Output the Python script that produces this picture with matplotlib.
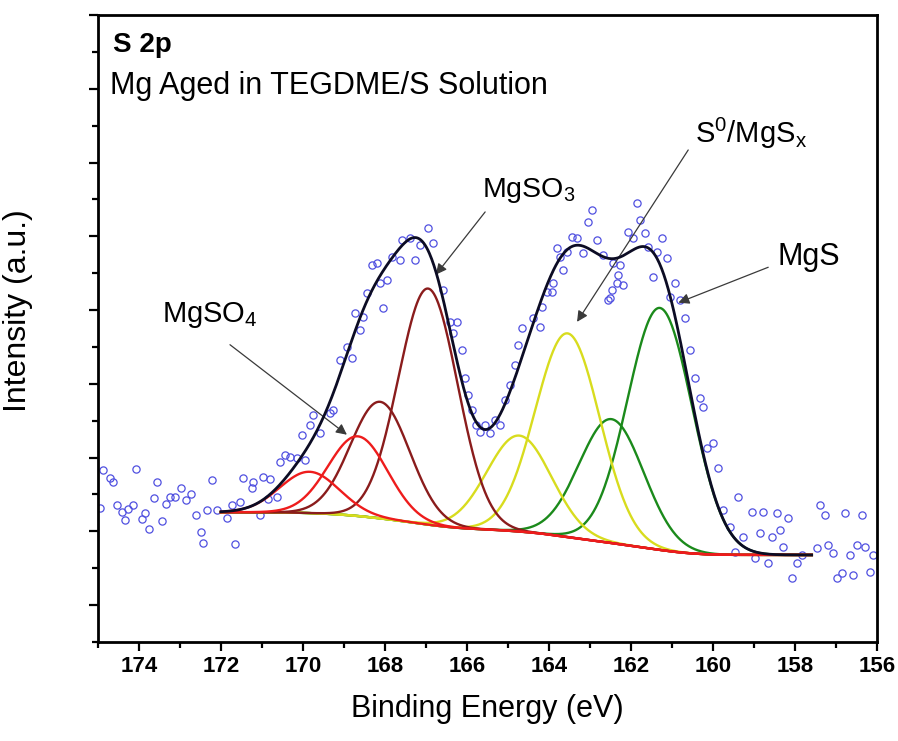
import numpy as np
import matplotlib
matplotlib.use("Agg")
import matplotlib.pyplot as plt
from matplotlib.ticker import MultipleLocator

plt.rcParams['font.family'] = ['Liberation Sans', 'DejaVu Sans']
plt.rcParams['mathtext.default'] = 'regular'

# Measured S 2p spectrum (binding energy in eV, intensity in a.u.)
energy = [174.94, 174.88, 174.71, 174.63, 174.54, 174.41, 174.34, 174.27, 174.15, 174.07,
          173.93, 173.85, 173.76, 173.63, 173.56, 173.44, 173.34, 173.24, 173.12, 172.98,
          172.85, 172.73, 172.61, 172.49, 172.44, 172.34, 172.22, 172.10, 171.85, 171.73,
          171.66, 171.54, 171.46, 171.24, 171.22, 171.05, 170.98, 170.85, 170.80, 170.63,
          170.56, 170.44, 170.32, 170.15, 170.02, 169.95, 169.83, 169.76, 169.59, 169.34,
          169.27, 169.10, 168.93, 168.80, 168.73, 168.61, 168.54, 168.44, 168.32, 168.20,
          168.12, 168.05, 167.95, 167.83, 167.63, 167.59, 167.39, 167.27, 167.15, 166.95,
          166.83, 166.59, 166.41, 166.34, 166.24, 166.12, 166.05, 165.98, 165.88, 165.78,
          165.68, 165.56, 165.44, 165.32, 165.20, 165.07, 164.95, 164.83, 164.76, 164.66,
          164.39, 164.22, 164.17, 164.05, 163.93, 163.90, 163.80, 163.73, 163.66, 163.56,
          163.44, 163.32, 163.17, 163.05, 162.95, 162.83, 162.68, 162.56, 162.51, 162.46,
          162.44, 162.34, 162.32, 162.27, 162.20, 162.07, 161.95, 161.85, 161.78, 161.66,
          161.59, 161.46, 161.37, 161.24, 161.12, 161.05, 160.93, 160.80, 160.68, 160.56,
          160.44, 160.32, 160.24, 160.15, 160.00, 159.88, 159.76, 159.59, 159.46, 159.39,
          159.27, 159.05, 158.98, 158.85, 158.78, 158.66, 158.56, 158.44, 158.37, 158.29,
          158.17, 158.07, 157.95, 157.83, 157.46, 157.39, 157.27, 157.20, 157.07, 156.98,
          156.85, 156.78, 156.66, 156.59, 156.49, 156.37, 156.29, 156.17, 156.10]
intensity = [2.32, 2.83, 2.72, 2.67, 2.36, 2.26, 2.15, 2.30, 2.36, 2.84,
             2.17, 2.25, 2.03, 2.45, 2.67, 2.14, 2.37, 2.46, 2.46, 2.59,
             2.42, 2.51, 2.22, 1.99, 1.84, 2.29, 2.70, 2.29, 2.18, 2.36,
             1.83, 2.40, 2.72, 2.59, 2.67, 2.22, 2.74, 2.44, 2.71, 2.46,
             2.94, 3.03, 3.01, 2.99, 3.31, 2.97, 3.44, 3.58, 3.33, 3.60,
             3.64, 4.32, 4.50, 4.35, 4.96, 4.73, 4.91, 5.23, 5.61, 5.64,
             5.37, 5.03, 5.41, 5.72, 5.68, 5.95, 5.98, 5.68, 5.88, 6.11,
             5.91, 5.27, 4.84, 4.69, 4.84, 4.46, 4.08, 3.85, 3.64, 3.44,
             3.35, 3.44, 3.33, 3.51, 3.44, 3.78, 3.98, 4.25, 4.53, 4.76,
             4.89, 4.77, 5.04, 5.24, 5.24, 5.37, 5.84, 5.72, 5.54, 5.79,
             5.99, 5.98, 5.77, 6.19, 6.36, 5.95, 5.75, 5.14, 5.16, 5.27,
             5.64, 5.37, 5.47, 5.61, 5.34, 6.06, 5.98, 6.45, 6.22, 6.04,
             5.85, 5.45, 5.79, 5.98, 5.71, 5.18, 5.37, 5.14, 4.89, 4.46,
             4.08, 3.81, 3.69, 3.13, 3.20, 2.86, 2.29, 2.06, 1.72, 2.46,
             1.92, 2.26, 1.64, 1.98, 2.26, 1.57, 1.92, 2.25, 2.02, 1.79,
             2.18, 1.37, 1.57, 1.68, 1.77, 2.36, 2.22, 1.81, 1.71, 1.37,
             1.43, 2.25, 1.68, 1.41, 1.81, 2.22, 1.79, 1.45, 1.68]

# Fitted doublet components (2p3/2 and 2p1/2 for each species)
species = ['MgSO4', 'MgSO4', 'MgSO3', 'MgSO3', 'S0/MgSx', 'S0/MgSx', 'MgS', 'MgS']
centers = [169.84, 168.66, 168.12, 166.95, 164.73, 163.55, 162.48, 161.30]
heights = [0.56, 1.08, 1.58, 3.20, 1.30, 2.76, 1.68, 3.28]
fwhms = [1.7, 1.7, 1.7, 1.7, 1.85, 1.85, 1.85, 1.85]

# Fit window and Shirley background end levels
fit_high, fit_low = 172.0, 157.6
bg_high, bg_low = 2.26, 1.68

colors = {'MgSO4': '#ee1c1c', 'MgSO3': '#8a1c1c',
          'S0/MgSx': '#d8dc1e', 'MgS': '#1b8a1b'}


def gauss(x, c, h, w):
    return h * np.exp(-4 * np.log(2) * (x - c) ** 2 / w ** 2)


x = np.linspace(fit_low, fit_high, 800)
comps = [gauss(x, c, h, w) for c, h, w in zip(centers, heights, fwhms)]
total = np.sum(comps, axis=0)
cum = np.concatenate([[0], np.cumsum(0.5 * (total[1:] + total[:-1]) * np.diff(x))])
background = bg_low + (bg_high - bg_low) * cum / cum[-1]
envelope = background + total

fig = plt.figure(figsize=(8.98, 7.41), dpi=100)
ax = fig.add_axes([0.109, 0.1336, 0.868, 0.8462])

ax.plot(energy, intensity, 'o', ms=5.2, mfc='none', mec='#5050e0', mew=0.9, zorder=2)

order = [6, 7, 4, 5, 2, 3, 0, 1]
for i in order:
    ax.plot(x, background + comps[i], color=colors[species[i]], lw=1.7, zorder=3)
ax.plot(x, envelope, color='#0c0c24', lw=2.0, zorder=4)

ax.set_xlim(175, 156)
ax.set_ylim(0.5, 9.0)
ax.xaxis.set_major_locator(MultipleLocator(2))
ax.xaxis.set_minor_locator(MultipleLocator(1))
ax.yaxis.set_major_locator(MultipleLocator(1))
ax.yaxis.set_minor_locator(MultipleLocator(0.5))
ax.set_yticklabels([])
ax.tick_params(which='both', direction='out', width=1.6, top=False, right=False)
ax.tick_params(which='major', length=6.5)
ax.tick_params(which='minor', length=4)
for lab in ax.get_xticklabels():
    lab.set_fontweight('bold')
    lab.set_fontsize(16)
for sp in ax.spines.values():
    sp.set_linewidth(2.0)

ax.set_xlabel('Binding Energy (eV)', fontsize=22, labelpad=12)
ax.set_ylabel('Intensity (a.u.)', fontsize=23)
ax.yaxis.set_label_coords(-0.083, 0.528)

ax.text(0.019, 0.941, 'S 2p', transform=ax.transAxes, fontsize=20,
        fontweight='bold', va='baseline')
ax.text(0.015, 0.874, 'Mg Aged in TEGDME/S Solution', transform=ax.transAxes,
        fontsize=22, va='baseline')

arrow = dict(arrowstyle='-|>', color='#3a3a3a', lw=0.9, mutation_scale=16,
             shrinkA=0, shrinkB=0)
ax.text(173.44, 4.84, 'MgSO$_4$', fontsize=21, va='baseline')
ax.annotate('', xy=(168.93, 3.31), xytext=(171.78, 4.53), arrowprops=arrow)
ax.text(165.63, 6.53, 'MgSO$_3$', fontsize=20.5, va='baseline')
ax.annotate('', xy=(166.76, 5.48), xytext=(165.56, 6.33), arrowprops=arrow)
ax.text(160.44, 7.27, 'S$^0$/MgS$_x$', fontsize=21, va='baseline')
ax.annotate('', xy=(163.32, 4.84), xytext=(160.61, 7.17), arrowprops=arrow)
ax.text(158.44, 5.61, 'MgS', fontsize=22, va='baseline')
ax.annotate('', xy=(160.85, 5.10), xytext=(158.66, 5.58), arrowprops=arrow)

fig.savefig('out.png', dpi=100)
